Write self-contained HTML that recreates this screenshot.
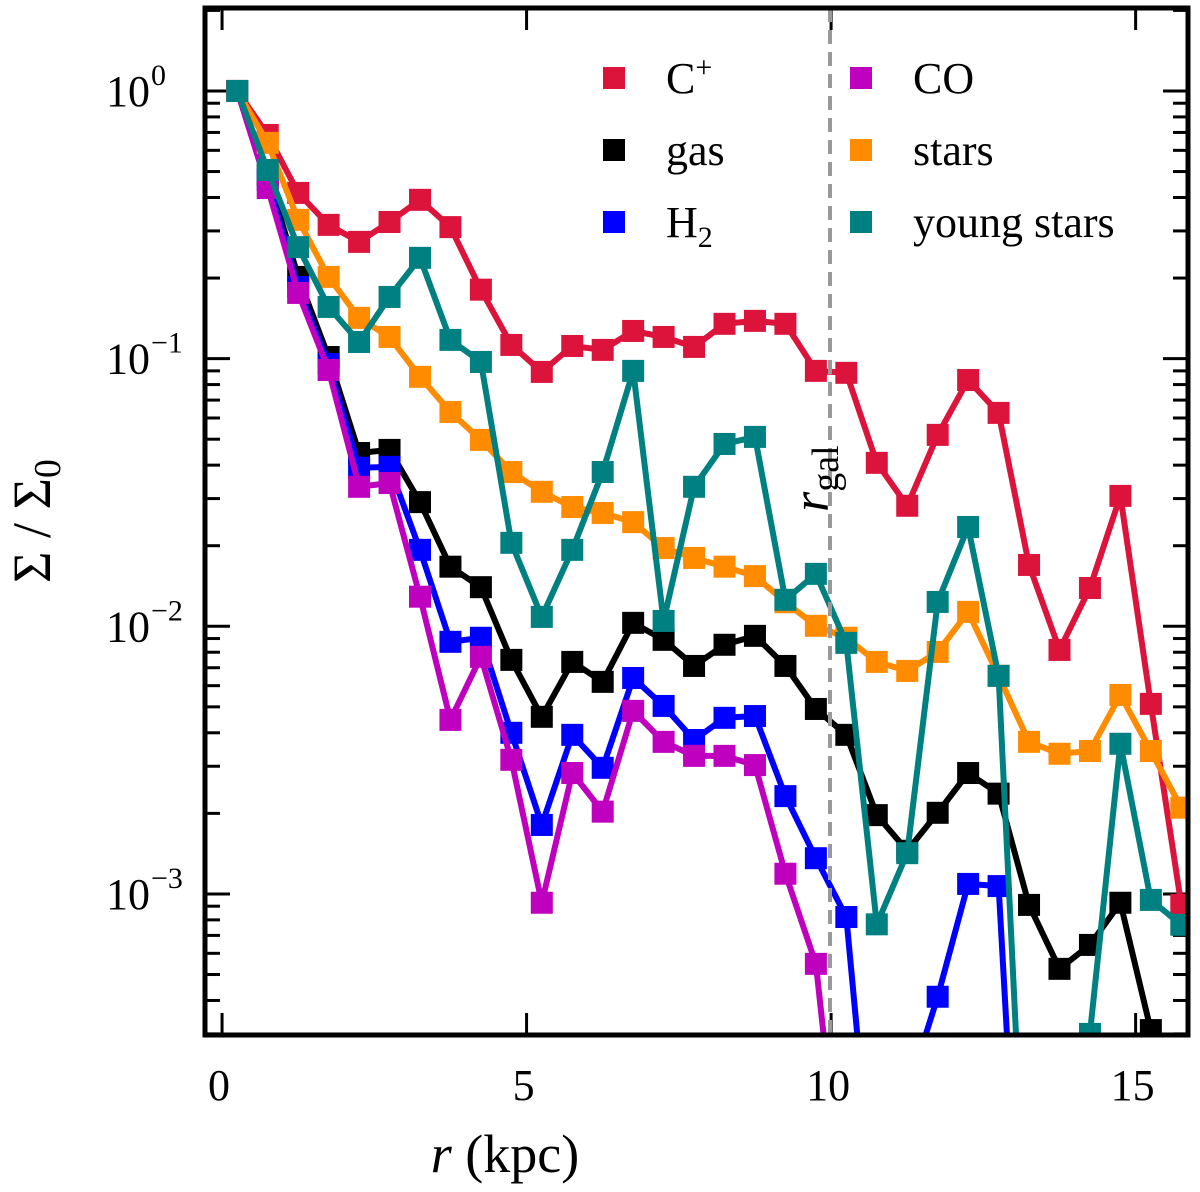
<!DOCTYPE html>
<html><head><meta charset="utf-8"><style>
html,body{margin:0;padding:0;background:#fff;overflow:hidden;width:1200px;height:1192px;}
svg{display:block;font-family:"Liberation Serif",serif;}
</style></head><body>
<svg id="chart" width="1200" height="1192" viewBox="0 0 1200 1192" xmlns="http://www.w3.org/2000/svg">
<defs><clipPath id="pc"><rect x="205" y="8" width="983" height="1027"/></clipPath></defs>
<rect x="0" y="0" width="1200" height="1192" fill="#fff"/>
<g id="ticks"></g>
<g id="series" clip-path="url(#pc)"></g>
<line x1="830" y1="8" x2="830" y2="1035" stroke="#999" stroke-width="4" stroke-dasharray="14,8"/>
<text transform="translate(828,512) rotate(-90)" font-size="52" font-style="italic">r<tspan font-style="normal" font-size="38" dy="10">gal</tspan></text>
<rect x="205" y="8" width="983" height="1027" fill="none" stroke="#000" stroke-width="5"/>
<g id="legend"></g>
<text x="505" y="1172" font-size="54" text-anchor="middle"><tspan font-style="italic">r</tspan> (kpc)</text>
<text transform="translate(50,521) rotate(-90)" font-size="54" text-anchor="middle">Σ / Σ<tspan font-size="38" dy="10">0</tspan></text>
</svg>
<script>
const radii = [0.25,0.75,1.25,1.75,2.25,2.75,3.25,3.75,4.25,4.75,5.25,5.75,6.25,6.75,7.25,7.75,8.25,8.75,9.25,9.75,10.25,10.75,11.25,11.75,12.25,12.75,13.25,13.75,14.25,14.75,15.25,15.75];
const cplus = [1,0.685,0.416,0.316,0.273,0.324,0.392,0.310,0.181,0.1125,0.0892,0.1115,0.1078,0.1269,0.1205,0.1106,0.1349,0.1384,0.1349,0.090,0.0885,0.0408,0.0282,0.0519,0.0832,0.0627,0.01695,0.00816,0.0139,0.0307,0.00513,0.00091];
const gas = [1,0.485,0.202,0.1014,0.0444,0.0456,0.0291,0.0167,0.0140,0.00749,0.00459,0.00736,0.00620,0.0103,0.00890,0.00711,0.00853,0.00921,0.00711,0.00491,0.00393,0.00197,0.00145,0.00201,0.00283,0.00237,0.00091,0.000525,0.000645,0.000927,0.00031,0.00015];
const h2 = [1,0.465,0.185,0.0955,0.0391,0.0394,0.0193,0.00875,0.00906,0.0040,0.00181,0.00393,0.00296,0.00641,0.00504,0.00376,0.00455,0.00462,0.00232,0.00136,0.00082,0.00005,0.00018,0.000413,0.00109,0.00107,0.00001,0.00001,0.00001,0.00001,0.00001,0.00001];
const co = [1,0.434,0.176,0.0907,0.0332,0.0343,0.0129,0.00447,0.00769,0.00317,0.000927,0.00283,0.00203,0.00483,0.0037,0.00328,0.00328,0.00303,0.00119,0.000548,0.00005,0.00001,0.00001,0.00001,0.00001,0.00001,0.00001,0.00001,0.00001,0.00001,0.00001,0.00001];
const stars = [1,0.64,0.330,0.202,0.142,0.1205,0.0855,0.0632,0.0497,0.0377,0.0318,0.0279,0.0265,0.0245,0.0196,0.0180,0.0167,0.0154,0.0123,0.01004,0.00906,0.00736,0.00681,0.00802,0.01132,0.00653,0.00370,0.00334,0.00342,0.00554,0.00342,0.00210];
const young = [1,0.507,0.261,0.156,0.1154,0.170,0.238,0.1175,0.0972,0.0205,0.01084,0.0193,0.0377,0.0900,0.01047,0.0332,0.048,0.0510,0.01256,0.0157,0.00867,0.00077,0.00142,0.01233,0.0235,0.00653,0.00003,0.00003,0.0003,0.00364,0.00095,0.000767];
const seriesNames = ["C+","gas","H2","CO","stars","young stars"];
const xTicks = [0,5,10,15];
const yTickExps = [0,-1,-2,-3];

const NS="http://www.w3.org/2000/svg";
const X0=205,X1=1188,Y0=8,Y1=1035;
const YCUT=1055;
const XMIN=-0.28,XMAX=15.86,LMAX=0.31,LMIN=-3.527;
function xs(r){return X0+(r-XMIN)/(XMAX-XMIN)*(X1-X0);}
function ys(v){return Y0+(LMAX-Math.log10(v))/(LMAX-LMIN)*(Y1-Y0);}
function mk(tag,attrs,parent){const e=document.createElementNS(NS,tag);for(const k in attrs)e.setAttribute(k,attrs[k]);parent.appendChild(e);return e;}

const tk=document.getElementById('ticks');
xTicks.forEach(t=>{
  const x=xs(t);
  const a=mk('line',{x1:x,y1:Y1,x2:x,y2:Y1-22,stroke:'#000','stroke-width':3},tk);
  
  
  const b=mk('line',{x1:x,y1:Y0,x2:x,y2:Y0+22,stroke:'#000','stroke-width':3},tk);
  
  
  const l=mk('text',{x:x-3,y:1100,'font-size':44,'text-anchor':'middle'},tk);
  l.textContent=t;
  
  
});
for(let e=1;e>=-4;e--){
  for(let m=1;m<10;m++){
    const v=m*Math.pow(10,e);
    const y=ys(v);
    if(y<Y0||y>Y1)continue;
    const len=m===1?25:15;
    const a=mk('line',{x1:X0,y1:y,x2:X0+len,y2:y,stroke:'#000','stroke-width':3},tk);
    
    
    const b=mk('line',{x1:X1,y1:y,x2:X1-len,y2:y,stroke:'#000','stroke-width':3},tk);
    
    
  }
}
yTickExps.forEach(e=>{
  const y=ys(Math.pow(10,e));
  const t=mk('text',{x:150,y:y+15,'font-size':44,'text-anchor':'end'},tk);
  t.textContent='10';
  
  
  const s=mk('text',{x:151,y:y-6,'font-size':30,'text-anchor':'start'},tk);
  s.textContent=e===0?'0':'\u2212'+(-e);
  
  
});

// split a series into visible polyline segments, cutting lines at YCUT
function segments(vals){
  const pts=vals.map((v,i)=>[xs(radii[i]),ys(v)]);
  const segs=[];let cur=[];
  for(let i=0;i<pts.length;i++){
    const p=pts[i];
    const inside=p[1]<=YCUT;
    if(i>0){
      const q=pts[i-1];const qin=q[1]<=YCUT;
      if(qin&&!inside){
        const t=(YCUT-q[1])/(p[1]-q[1]);
        cur.push([q[0]+t*(p[0]-q[0]),YCUT]);
        segs.push(cur);cur=[];
      } else if(!qin&&inside){
        const t=(YCUT-q[1])/(p[1]-q[1]);
        cur=[[q[0]+t*(p[0]-q[0]),YCUT]];
      }
    }
    if(inside)cur.push(p);
  }
  if(cur.length>1)segs.push(cur);
  return segs;
}

const data=[cplus,gas,h2,co,stars,young];
const colors=['#dc143c','#000000','#0000ff','#bf00bf','#ff8c00','#008080'];
const sg=document.getElementById('series');
data.forEach((vals,si)=>{
  const g=mk('g',{},sg);
  
  
  segments(vals).forEach(seg=>{
    const pts=seg.map(p=>p[0].toFixed(1)+','+p[1].toFixed(1)).join(' ');
    const pl=mk('polyline',{points:pts,fill:'none',stroke:colors[si],'stroke-width':6,'stroke-linejoin':'round'},g);
    
    
  });
  vals.forEach((v,i)=>{
    const y=ys(v);
    if(y>Y1+11)return;
    const r=mk('rect',{x:xs(radii[i])-11,y:y-11,width:22,height:22,fill:colors[si]},g);
    
    
  });
});

const lg=document.getElementById('legend');
const legendLabels=[['C','+',''],['gas','',''],['H','','2'],['CO','',''],['stars','',''],['young stars','','']];
const legendPos=[[614,78],[614,150],[614,222],[861,78],[861,150],[861,222]];
legendLabels.forEach((lab,i)=>{
  const [mx,my]=legendPos[i];
  const r=mk('rect',{x:mx-11,y:my-11,width:22,height:22,fill:colors[i]},lg);
  
  
  const t=mk('text',{x:mx+52,y:my+15,'font-size':44},lg);
  
  
  t.appendChild(document.createTextNode(lab[0]));
  if(lab[1]){const s=mk('tspan',{'font-size':30,dy:-16},t);s.textContent=lab[1];}
  if(lab[2]){const s=mk('tspan',{'font-size':30,dy:10},t);s.textContent=lab[2];}
});
</script>
</body></html>
